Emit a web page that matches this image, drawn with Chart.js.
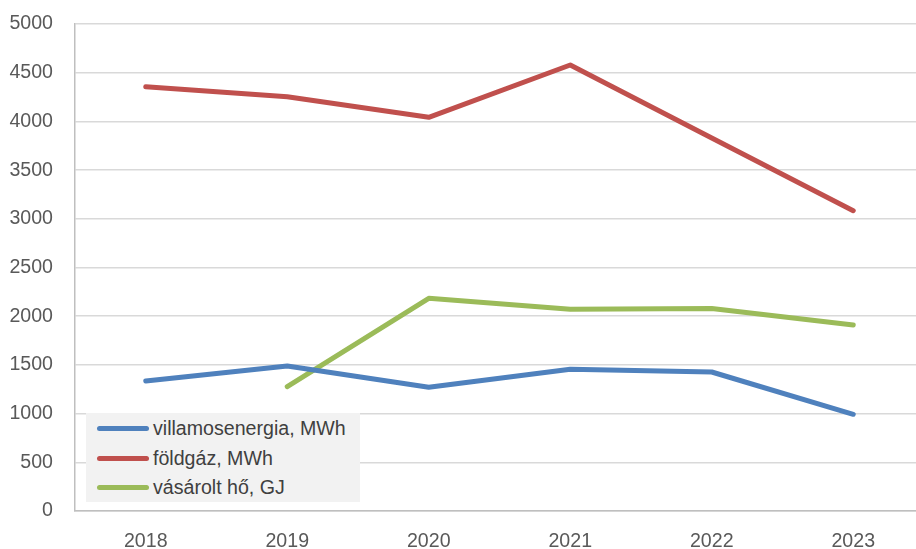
<!DOCTYPE html>
<html>
<head>
<meta charset="utf-8">
<script src="https://cdn.jsdelivr.net/npm/chart.js@4/dist/chart.umd.min.js"></script>
<style>
  html, body { margin: 0; padding: 0; background: #fff; overflow: hidden; }
  #wrap { position: relative; width: 924px; height: 549px; }
  #legend {
    position: absolute; left: 86px; top: 413px; width: 274px; height: 89px;
    background: #f2f2f2; font: 19.6px "Liberation Sans", Arial, sans-serif; color: #404040;
    box-sizing: border-box; padding-top: 1px;
  }
  #legend .row { display: flex; align-items: center; height: 29.5px; }
  #legend .swatch { width: 52px; height: 5px; border-radius: 3px; margin: 0 4px 0 11px; }
</style>
</head>
<body>
<div id="wrap">
  <canvas id="chart" width="924" height="549"></canvas>
  <div id="legend"></div>
</div>
<script>
// Data
const years = ["2018", "2019", "2020", "2021", "2022", "2023"];
const villamos = [1335, 1489, 1270, 1455, 1427, 993];
const foldgaz = [4356, 4254, 4042, 4579, 3830, 3083];
const hoVasarolt = [null, 1276, 2184, 2071, 2080, 1910];
const seriesNames = ["villamosenergia, MWh", "földgáz, MWh", "vásárolt hő, GJ"];
const seriesColors = ["#4f81bd", "#c0504d", "#9bbb59"];

const font = { family: "'Liberation Sans', Arial, sans-serif", size: 19.6 };

const datasets = [villamos, foldgaz, hoVasarolt].map((d, i) => ({
  label: seriesNames[i],
  data: d,
  borderColor: seriesColors[i],
  backgroundColor: seriesColors[i],
  borderWidth: 5,
  pointRadius: 0,
  borderCapStyle: "round",
  borderJoinStyle: "round",
  tension: 0,
  clip: false
}));

new Chart(document.getElementById("chart"), {
  type: "line",
  data: { labels: years, datasets },
  options: {
    responsive: false,
    animation: false,
    layout: { padding: { top: 24, left: 0, right: 0, bottom: 0 } },
    plugins: { legend: { display: false }, tooltip: { enabled: false } },
    scales: {
      x: {
        offset: true,
        grid: { display: false },
        border: { display: true, color: "#bfbfbf", width: 1.5 },
        ticks: { color: "#595959", font, padding: 11, maxRotation: 0 },
        afterFit: s => { s.height = 38; s.paddingLeft = 0; s.paddingRight = 0; }
      },
      y: {
        min: 0, max: 5000,
        ticks: { stepSize: 500, color: "#595959", font, padding: 22, callback: v => String(v) },
        grid: { color: "#d9d9d9", lineWidth: 1.5, drawTicks: false },
        border: { display: true, color: "#bfbfbf", width: 1.5 },
        afterFit: s => { s.width = 75; s.paddingTop = 0; s.paddingBottom = 0; }
      }
    }
  }
});

// Legend overlay
const legend = document.getElementById("legend");
seriesNames.forEach((name, i) => {
  const row = document.createElement("div");
  row.className = "row";
  row.innerHTML = `<span class="swatch" style="background:${seriesColors[i]}"></span><span>${name}</span>`;
  legend.appendChild(row);
});
</script>
</body>
</html>
